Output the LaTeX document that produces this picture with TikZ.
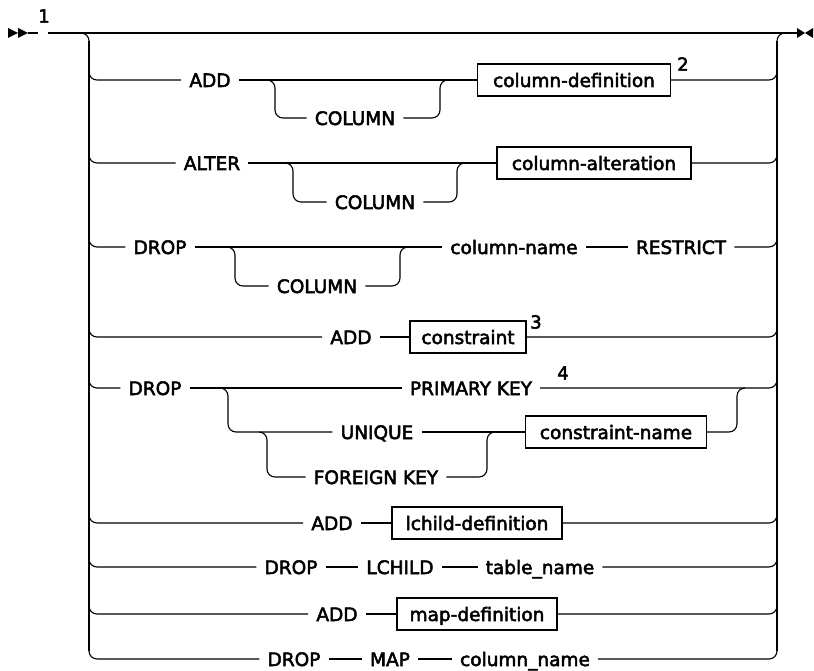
\documentclass[tikz,border=0pt]{standalone}
\usepackage{fontspec}
\setmainfont{DejaVu Sans}
\newfontfamily\kwfont{DejaVu Sans}[FakeBold=2.8]
\begin{document}
\begin{tikzpicture}[x=1pt,y=-1pt,
    kw/.style={inner xsep=8pt, inner ysep=0pt, text height=14pt, text depth=0pt,
      font=\kwfont\fontsize{18.5}{22}\selectfont},
    box/.style={kw, draw, line width=1.2pt, minimum height=32pt, inner xsep=8pt},
    fn/.style={inner sep=0pt, font=\kwfont\fontsize{18}{20}\selectfont},
    line/.style={line width=1.1pt, rounded corners=8pt},
    rail/.style={line width=2.2pt}]
    \useasboundingbox (0,0) rectangle (814,671);

    % start and end marks
    \fill (8,28) -- (18,33) -- (8,38) -- cycle;
    \fill (18,28) -- (28,33) -- (18,38) -- cycle;
    \fill (797,28) -- (805,33) -- (797,38) -- cycle;
    \fill (813,28) -- (805,33) -- (813,38) -- cycle;
    \coordinate (in) at (28,33);
    \coordinate (go) at (48,33);
    \coordinate (out) at (797,33);
    \node[fn] (n1) at (44,16) {1};

    \draw[line] (in) -- (38,33);
    \draw[line] (go) -- (out);
    \draw[line] (80,33) -| (89,43);
    \draw[line] (777,43) |- (786,33);
    \draw[rail] (89,41) -- (89,651);
    \draw[rail] (777,41) -- (777,651);

    % ADD [COLUMN] column-definition
    \node[kw] (add1) at (210,80) {ADD};
    \node[kw] (col1) at (355,118) {COLUMN};
    \node[box, minimum width=193pt] (coldef) at (574,80) {column-definition};
    \node[fn] (n2) at (683,64) {2};
    \draw[line] (89,70) |- (add1);
    \draw[line] (add1) -- (coldef);
    \draw[line] (267,80) -| (275,118) -- (col1);
    \draw[line] (col1.east) -| (440,80) -- (448,80);
    \draw[line] (coldef.east) -| (777,70);

    % ALTER [COLUMN] column-alteration
    \node[kw] (alter2) at (212,163) {ALTER};
    \node[kw] (col2) at (375,202) {COLUMN};
    \node[box, minimum width=194pt] (colalt) at (594,163) {column-alteration};
    \draw[line] (89,153) |- (alter2);
    \draw[line] (alter2) -- (colalt);
    \draw[line] (285,163) -| (293,202) -- (col2);
    \draw[line] (col2.east) -| (457,163) -- (465,163);
    \draw[line] (colalt.east) -| (777,153);

    % DROP [COLUMN] column-name RESTRICT
    \node[kw] (drop3) at (160,247) {DROP};
    \node[kw] (col3) at (317,286) {COLUMN};
    \node[kw] (colname) at (514,247) {column-name};
    \node[kw] (restrict) at (681,247) {RESTRICT};
    \draw[line] (89,237) |- (drop3);
    \draw[line] (drop3) -- (colname);
    \draw[line] (227,247) -| (235,286) -- (col3);
    \draw[line] (col3.east) -| (400,247) -- (408,247);
    \draw[line] (colname) -- (restrict);
    \draw[line] (restrict.east) -| (777,237);

    % ADD constraint
    \node[kw] (add4) at (351,337) {ADD};
    \node[box, minimum width=116pt] (cons) at (468,337) {constraint};
    \node[fn] (n3) at (536,322) {3};
    \draw[line] (89,327) |- (add4);
    \draw[line] (add4) -- (cons);
    \draw[line] (cons.east) -| (777,327);

    % DROP PRIMARY KEY / UNIQUE / FOREIGN KEY
    \node[kw] (drop5) at (155,388) {DROP};
    \node[kw] (pk) at (471,388) {PRIMARY KEY};
    \node[fn] (n4) at (563,373) {4};
    \node[kw] (uniq) at (377,432) {UNIQUE};
    \node[kw] (fk) at (376,477) {FOREIGN KEY};
    \node[box, minimum width=181pt] (consname) at (616,432) {constraint-name};
    \draw[line] (89,378) |- (drop5);
    \draw[line] (drop5) -- (pk);
    \draw[line] (pk.east) -| (777,378);
    \draw[line] (220,388) -| (228,432) -- (uniq);
    \draw[line] (259,432) -| (267,477) -- (fk);
    \draw[line] (uniq) -- (consname);
    \draw[line] (fk.east) -| (487,432) -- (495,432);
    \draw[line] (consname.east) -| (737,388) -- (745,388);

    % ADD lchild-definition
    \node[kw] (add6) at (332,523) {ADD};
    \node[box, minimum width=170pt] (lchilddef) at (477,523) {lchild-definition};
    \draw[line] (89,513) |- (add6);
    \draw[line] (add6) -- (lchilddef);
    \draw[line] (lchilddef.east) -| (777,513);

    % DROP LCHILD table_name
    \node[kw] (drop7) at (291,567) {DROP};
    \node[kw] (lchild) at (400,567) {LCHILD};
    \node[kw] (tabname) at (540,567) {table\_name};
    \draw[line] (89,557) |- (drop7);
    \draw[line] (drop7) -- (lchild);
    \draw[line] (lchild) -- (tabname);
    \draw[line] (tabname.east) -| (777,557);

    % ADD map-definition
    \node[kw] (add8) at (337,614) {ADD};
    \node[box, minimum width=160pt] (mapdef) at (477,614) {map-definition};
    \draw[line] (89,604) |- (add8);
    \draw[line] (add8) -- (mapdef);
    \draw[line] (mapdef.east) -| (777,604);

    % DROP MAP column_name
    \node[kw] (drop9) at (294,659) {DROP};
    \node[kw] (map) at (390,659) {MAP};
    \node[kw] (colnm) at (525,659) {column\_name};
    \draw[line] (89,647) |- (drop9);
    \draw[line] (drop9) -- (map);
    \draw[line] (map) -- (colnm);
    \draw[line] (colnm.east) -| (777,647);
  \end{tikzpicture}
\end{document}
